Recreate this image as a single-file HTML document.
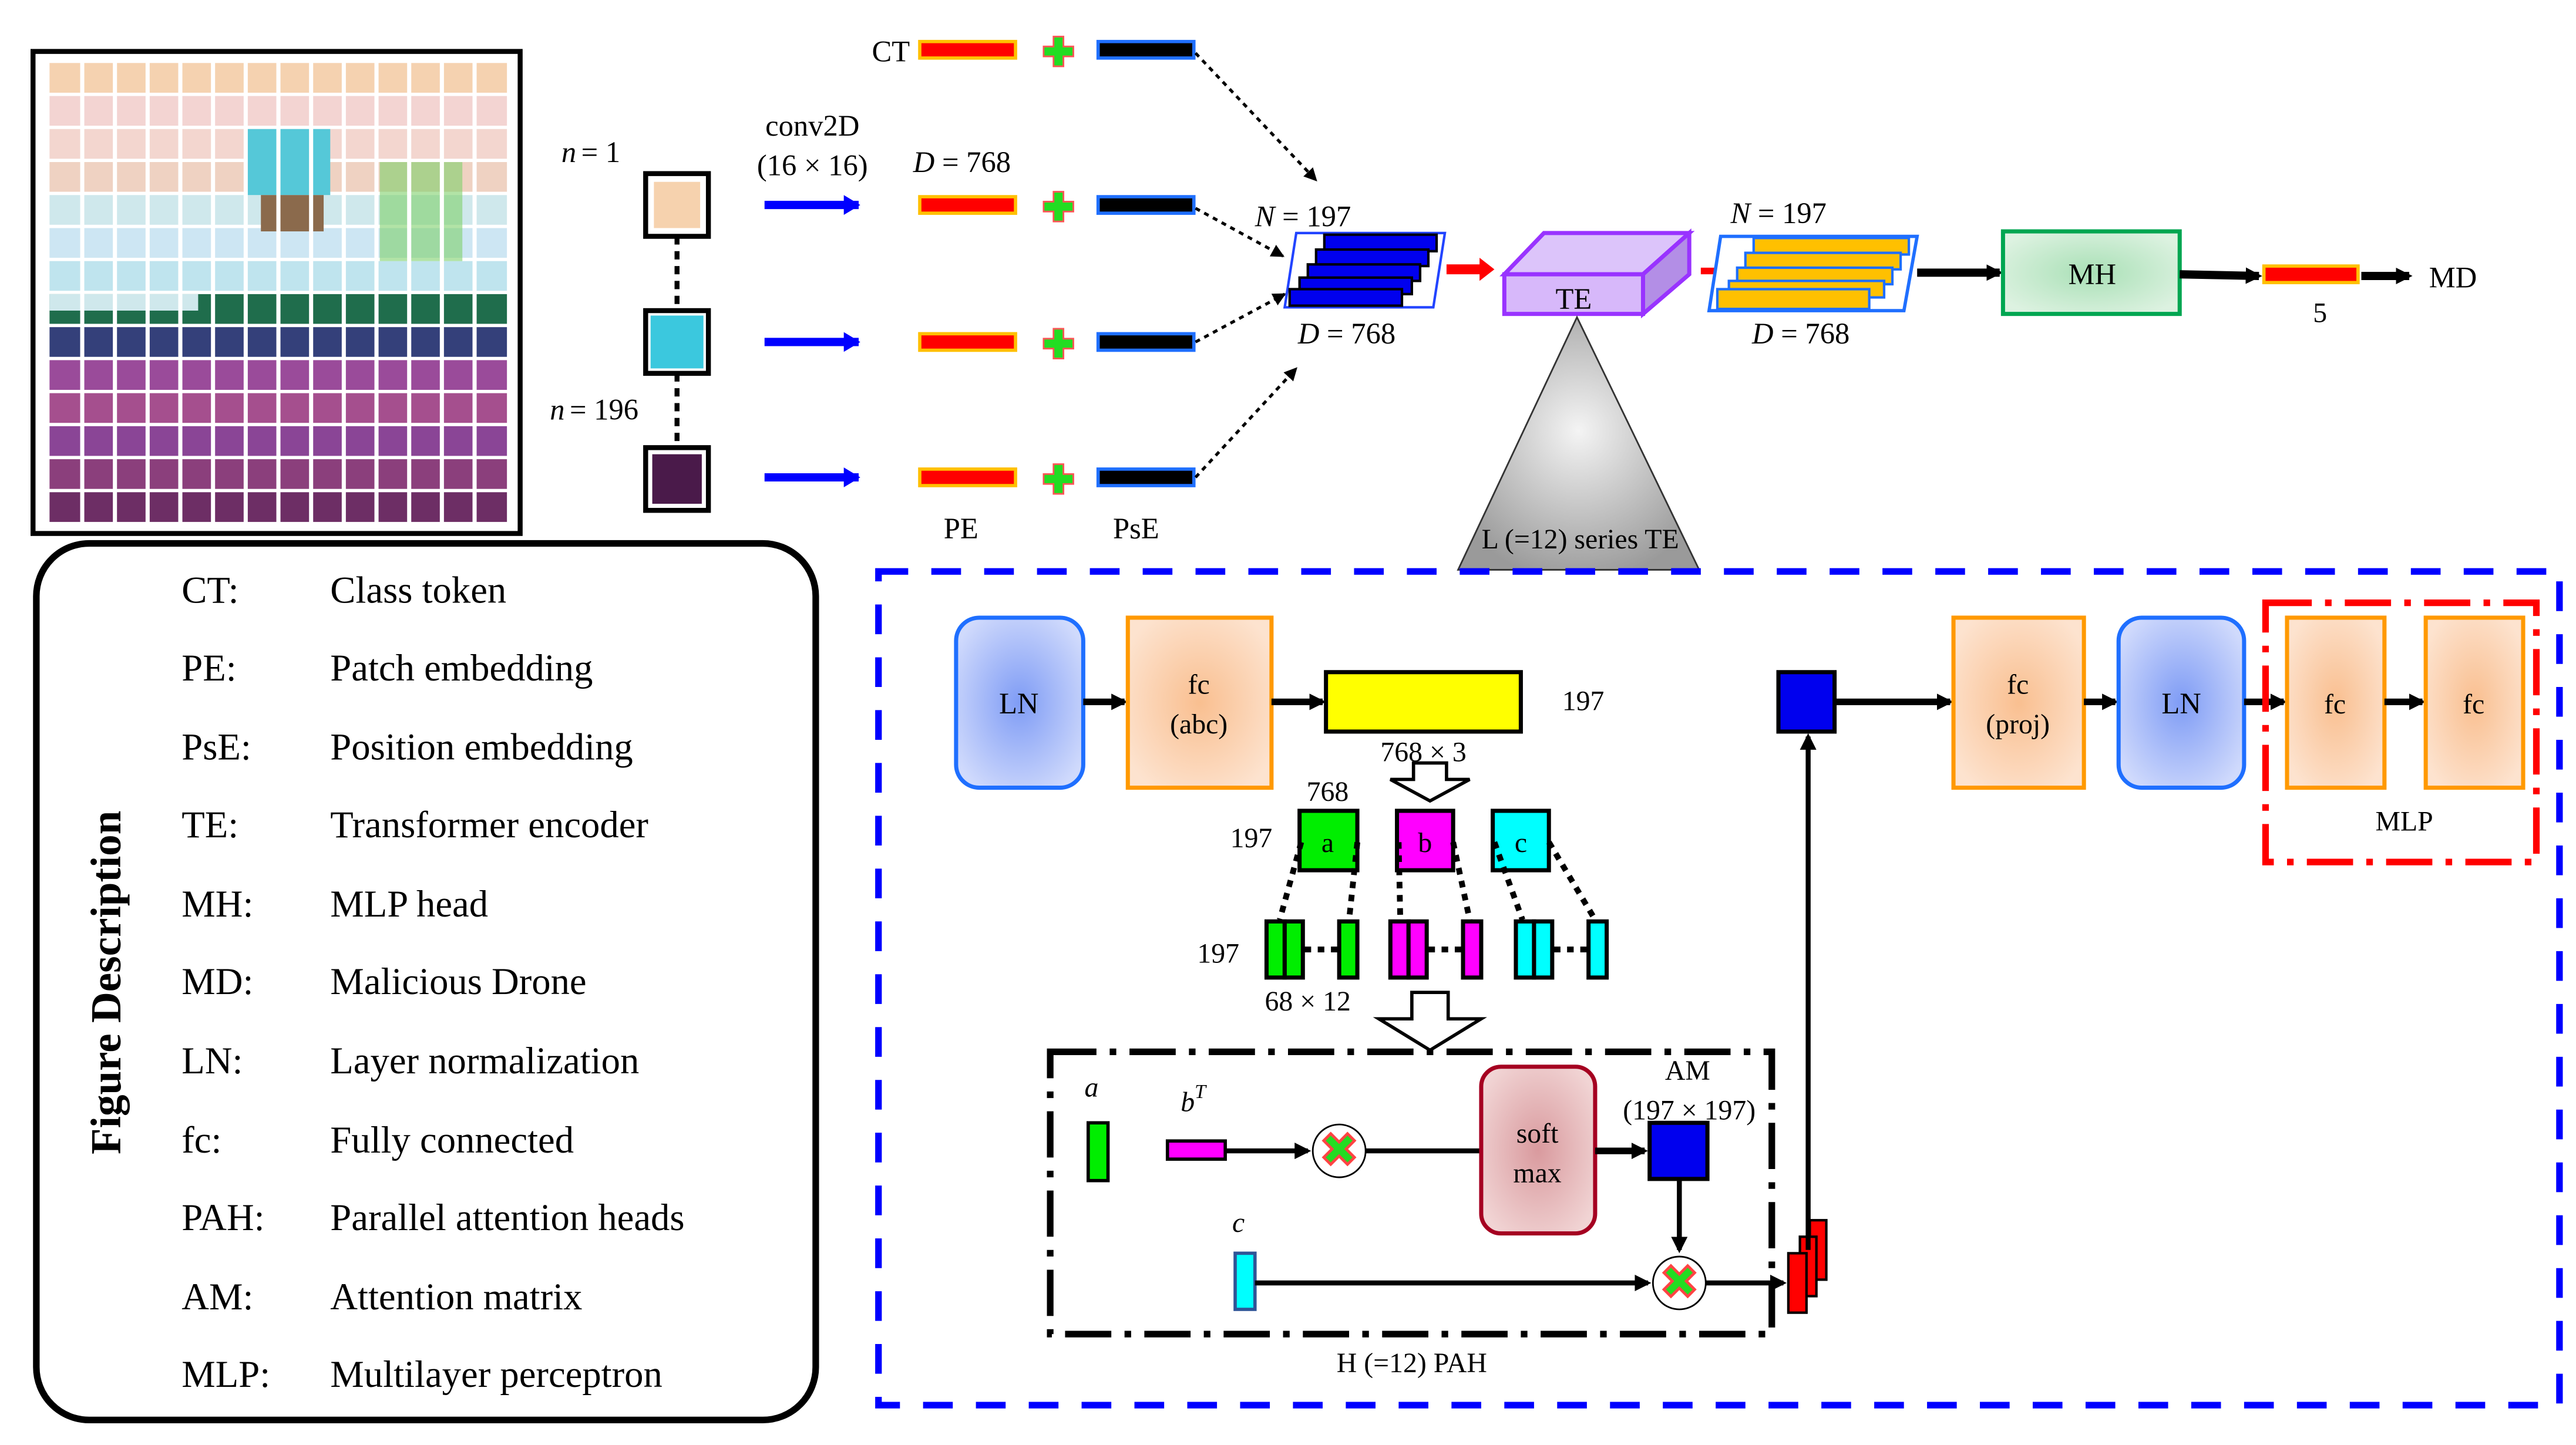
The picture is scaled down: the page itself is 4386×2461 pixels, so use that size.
<!DOCTYPE html>
<html><head><meta charset="utf-8"><style>
html,body{margin:0;padding:0;background:#fff;}
svg{display:block;}
svg text{font-family:"Liberation Serif","DejaVu Serif",serif;fill:#000;}
</style></head><body>
<svg width="4386" height="2461" viewBox="0 0 1560 875" xmlns="http://www.w3.org/2000/svg" font-family="Liberation Serif, DejaVu Serif, serif">
<defs>
<radialGradient id="gBlue" cx="50%" cy="50%" r="60%"><stop offset="0" stop-color="#7f9cf5"/><stop offset="1" stop-color="#d0dafc"/></radialGradient>
<radialGradient id="gOr" cx="50%" cy="50%" r="60%"><stop offset="0" stop-color="#f9bf90"/><stop offset="1" stop-color="#fde3cf"/></radialGradient>
<radialGradient id="gGr" cx="50%" cy="50%" r="60%"><stop offset="0" stop-color="#a9e0b6"/><stop offset="1" stop-color="#ddf2e1"/></radialGradient>
<radialGradient id="gPk" cx="50%" cy="50%" r="60%"><stop offset="0" stop-color="#d99a9e"/><stop offset="1" stop-color="#f1d4d4"/></radialGradient>
<radialGradient id="gPu" cx="50%" cy="50%" r="60%"><stop offset="0" stop-color="#c79af5"/><stop offset="1" stop-color="#e6d2fb"/></radialGradient>
<radialGradient id="gTri" cx="50%" cy="45%" r="60%"><stop offset="0" stop-color="#f4f4f4"/><stop offset="1" stop-color="#9a9a9a"/></radialGradient>
<marker id="ah" markerWidth="10" markerHeight="10" refX="8" refY="5" orient="auto" markerUnits="userSpaceOnUse"><path d="M0,0 L10,5 L0,10 Z" fill="#000"/></marker>
<marker id="ahs" markerWidth="8" markerHeight="8" refX="7" refY="4" orient="auto" markerUnits="userSpaceOnUse"><path d="M0,0 L8,4 L0,8 Z" fill="#000"/></marker>
<marker id="ahb" markerWidth="10" markerHeight="12" refX="9" refY="6" orient="auto" markerUnits="userSpaceOnUse"><path d="M0,0 L10,6 L0,12 Z" fill="#0000ff"/></marker>
</defs>

<!-- image frame -->
<rect x="20" y="31" width="295" height="292" fill="#fff" stroke="#000" stroke-width="3"/>
<g>
<rect x="30" y="38" width="277" height="18" fill="#f5d2b0"/>
<rect x="30" y="58" width="277" height="18" fill="#f3d4d2"/>
<rect x="30" y="78" width="277" height="18" fill="#f3d6cf"/>
<rect x="30" y="98" width="277" height="18" fill="#efd2c2"/>
<rect x="30" y="118" width="277" height="18" fill="#cfe8ec"/>
<rect x="30" y="138" width="277" height="18" fill="#cde6f3"/>
<rect x="30" y="158" width="277" height="18" fill="#bfe4ee"/>
<rect x="30" y="178" width="277" height="18" fill="#1f6d4c"/>
<rect x="30" y="198" width="277" height="18" fill="#34407a"/>
<rect x="30" y="218" width="277" height="18" fill="#9a4b9a"/>
<rect x="30" y="238" width="277" height="18" fill="#a54f8e"/>
<rect x="30" y="258" width="277" height="18" fill="#8a4596"/>
<rect x="30" y="278" width="277" height="18" fill="#8b3f7c"/>
<rect x="30" y="298" width="277" height="18" fill="#6d2e65"/>
<rect x="150" y="78" width="50" height="40" fill="#55c8d8"/>
<rect x="158" y="118" width="38" height="22" fill="#8b6a4c"/>
<rect x="230" y="98" width="50" height="60" fill="#7ed06b" opacity="0.6"/>
<rect x="30" y="178" width="90" height="10" fill="#cfe8ec"/>
</g>
<g stroke="#fff" stroke-width="2.5">
<line x1="49.8" y1="36" x2="49.8" y2="318"/><line x1="69.6" y1="36" x2="69.6" y2="318"/><line x1="89.4" y1="36" x2="89.4" y2="318"/><line x1="109.2" y1="36" x2="109.2" y2="318"/><line x1="129" y1="36" x2="129" y2="318"/><line x1="148.8" y1="36" x2="148.8" y2="318"/><line x1="168.6" y1="36" x2="168.6" y2="318"/><line x1="188.4" y1="36" x2="188.4" y2="318"/><line x1="208.2" y1="36" x2="208.2" y2="318"/><line x1="228" y1="36" x2="228" y2="318"/><line x1="247.8" y1="36" x2="247.8" y2="318"/><line x1="267.6" y1="36" x2="267.6" y2="318"/><line x1="287.4" y1="36" x2="287.4" y2="318"/>
</g>

<!-- legend -->
<rect x="22" y="329" width="472" height="531" rx="32" fill="#fff" stroke="#000" stroke-width="4"/>
<text x="73" y="595" font-size="26" font-weight="bold" transform="rotate(-90 73 595)" text-anchor="middle">Figure Description</text>
<g font-size="23">
<text x="110" y="365">CT:</text><text x="200" y="365">Class token</text>
<text x="110" y="412">PE:</text><text x="200" y="412">Patch embedding</text>
<text x="110" y="460">PsE:</text><text x="200" y="460">Position embedding</text>
<text x="110" y="507">TE:</text><text x="200" y="507">Transformer encoder</text>
<text x="110" y="555">MH:</text><text x="200" y="555">MLP head</text>
<text x="110" y="602">MD:</text><text x="200" y="602">Malicious Drone</text>
<text x="110" y="650">LN:</text><text x="200" y="650">Layer normalization</text>
<text x="110" y="698">fc:</text><text x="200" y="698">Fully connected</text>
<text x="110" y="745">PAH:</text><text x="200" y="745">Parallel attention heads</text>
<text x="110" y="793">AM:</text><text x="200" y="793">Attention matrix</text>
<text x="110" y="840">MLP:</text><text x="200" y="840">Multilayer perceptron</text>
</g>

<!-- patches -->
<rect x="391" y="105" width="38" height="38" fill="#fff" stroke="#000" stroke-width="3"/><rect x="396" y="110" width="28" height="28" fill="#f6d2ae"/>
<rect x="391" y="188" width="38" height="38" fill="#fff" stroke="#000" stroke-width="3"/><rect x="394" y="191" width="32" height="32" fill="#3bc8de"/>
<rect x="391" y="271" width="38" height="38" fill="#fff" stroke="#000" stroke-width="3"/><rect x="395" y="275" width="30" height="30" fill="#4a1a4a"/>
<line x1="410" y1="143" x2="410" y2="188" stroke="#000" stroke-width="3" stroke-dasharray="5,4"/>
<line x1="410" y1="226" x2="410" y2="271" stroke="#000" stroke-width="3" stroke-dasharray="5,4"/>
<text x="340" y="98" font-size="18" font-style="italic">n</text><text x="352" y="98" font-size="18">= 1</text>
<text x="333" y="254" font-size="18" font-style="italic">n</text><text x="345" y="254" font-size="18">= 196</text>
<text x="492" y="82" font-size="18" text-anchor="middle">conv2D</text>
<text x="492" y="106" font-size="18" text-anchor="middle">(16 × 16)</text>
<g stroke="#0000ff" stroke-width="5" marker-end="url(#ahb)">
<line x1="463" y1="124" x2="520" y2="124"/><line x1="463" y1="207" x2="520" y2="207"/><line x1="463" y1="289" x2="520" y2="289"/>
</g>

<!-- tokens -->
<text x="528" y="37" font-size="18">CT</text>
<text x="553" y="104" font-size="18"><tspan font-style="italic">D</tspan> = 768</text>
<g>
<rect x="557" y="25" width="58" height="10" fill="#ff0000" stroke="#ffc000" stroke-width="2"/>
<rect x="557" y="119" width="58" height="10" fill="#ff0000" stroke="#ffc000" stroke-width="2"/>
<rect x="557" y="202" width="58" height="10" fill="#ff0000" stroke="#ffc000" stroke-width="2"/>
<rect x="557" y="284" width="58" height="10" fill="#ff0000" stroke="#ffc000" stroke-width="2"/>
<rect x="665" y="25" width="58" height="10" fill="#000" stroke="#1f6fff" stroke-width="2"/>
<rect x="665" y="119" width="58" height="10" fill="#000" stroke="#1f6fff" stroke-width="2"/>
<rect x="665" y="202" width="58" height="10" fill="#000" stroke="#1f6fff" stroke-width="2"/>
<rect x="665" y="284" width="58" height="10" fill="#000" stroke="#1f6fff" stroke-width="2"/>
</g>
<g fill="#22dd22" stroke="#ff5555" stroke-width="1">
<path d="M638,22h6v6h6v6h-6v6h-6v-6h-6v-6h6z"/>
<path d="M638,116h6v6h6v6h-6v6h-6v-6h-6v-6h6z"/>
<path d="M638,199h6v6h6v6h-6v6h-6v-6h-6v-6h6z"/>
<path d="M638,281h6v6h6v6h-6v6h-6v-6h-6v-6h6z"/>
</g>
<text x="582" y="326" font-size="18" text-anchor="middle">PE</text>
<text x="688" y="326" font-size="18" text-anchor="middle">PsE</text>
<g stroke="#000" stroke-width="1.8" stroke-dasharray="3,3" marker-end="url(#ahs)" fill="none">
<line x1="724" y1="32" x2="797" y2="109"/>
<line x1="724" y1="126" x2="777" y2="155"/>
<line x1="724" y1="207" x2="778" y2="178"/>
<line x1="724" y1="289" x2="785" y2="223"/>
</g>

<!-- blue stack -->
<text x="760" y="137" font-size="18"><tspan font-style="italic">N</tspan> = 197</text>
<path d="M778,186 L785,141 L875,141 L868,186 Z" fill="#fff" stroke="#2244ff" stroke-width="1.5"/>
<rect x="802" y="142" width="68" height="10" fill="#0000ee" stroke="#000" stroke-width="1.5"/>
<rect x="797" y="151" width="68" height="10" fill="#0000ee" stroke="#000" stroke-width="1.5"/>
<rect x="792" y="160" width="68" height="10" fill="#0000ee" stroke="#000" stroke-width="1.5"/>
<rect x="787" y="168" width="68" height="10" fill="#0000ee" stroke="#000" stroke-width="1.5"/>
<rect x="781" y="175" width="68" height="10" fill="#0000ee" stroke="#000" stroke-width="1.5"/>
<text x="786" y="208" font-size="18"><tspan font-style="italic">D</tspan> = 768</text>
<path d="M876,160 h20 v-4 l9,7 l-9,7 v-4 h-20 z" fill="#ff0000"/>

<!-- TE box -->
<path d="M911,166 L935,141 L1023,141 L995,166 Z" fill="#dcc4fa" stroke="#9933ff" stroke-width="2.5"/>
<path d="M995,166 L1023,141 L1023,166 L995,190 Z" fill="#b38ee6" stroke="#9933ff" stroke-width="2.5"/>
<rect x="911" y="166" width="84" height="24" fill="#d7b8fa" stroke="#9933ff" stroke-width="2.5"/>
<text x="953" y="187" font-size="18" text-anchor="middle">TE</text>
<path d="M955,192 L1029,345 L883,345 Z" fill="url(#gTri)" stroke="#333" stroke-width="1"/>
<text x="957" y="332" font-size="17" text-anchor="middle">L (=12) series TE</text>
<path d="M1030,162 h14 v-4 l8,6 l-8,6 v-4 h-14 z" fill="#ff0000"/>

<!-- yellow stack -->
<text x="1048" y="135" font-size="18"><tspan font-style="italic">N</tspan> = 197</text>
<path d="M1035,188 L1042,143 L1161,143 L1153,188 Z" fill="#fff" stroke="#1f6fff" stroke-width="2"/>
<rect x="1062" y="144" width="94" height="10" fill="#ffc000" stroke="#1f6fff" stroke-width="1.5"/>
<rect x="1057" y="153" width="94" height="10" fill="#ffc000" stroke="#1f6fff" stroke-width="1.5"/>
<rect x="1052" y="162" width="94" height="10" fill="#ffc000" stroke="#1f6fff" stroke-width="1.5"/>
<rect x="1047" y="170" width="94" height="10" fill="#ffc000" stroke="#1f6fff" stroke-width="1.5"/>
<rect x="1040" y="175" width="92" height="12" fill="#ffc000" stroke="#1f6fff" stroke-width="1.5"/>
<text x="1061" y="208" font-size="18"><tspan font-style="italic">D</tspan> = 768</text>
<line x1="1161" y1="165" x2="1211" y2="165" stroke="#000" stroke-width="5" marker-end="url(#ah)"/>
<rect x="1213" y="140" width="107" height="50" fill="url(#gGr)" stroke="#00a651" stroke-width="2.5"/>
<text x="1267" y="172" font-size="18" text-anchor="middle">MH</text>
<line x1="1320" y1="166" x2="1368" y2="167" stroke="#000" stroke-width="5" marker-end="url(#ah)"/>
<rect x="1371" y="161" width="57" height="10" fill="#ff0000" stroke="#ffc000" stroke-width="2"/>
<line x1="1430" y1="167" x2="1459" y2="167" stroke="#000" stroke-width="5" marker-end="url(#ah)"/>
<text x="1471" y="174" font-size="18">MD</text>
<text x="1405" y="195" font-size="17" text-anchor="middle">5</text>

<!-- encoder detail dashed box -->
<rect x="532" y="346" width="1018" height="505" fill="none" stroke="#0000ff" stroke-width="4" stroke-dasharray="18,14"/>
<rect x="579" y="374" width="77" height="103" rx="14" fill="url(#gBlue)" stroke="#1f6fff" stroke-width="2.5"/>
<text x="617" y="432" font-size="18" text-anchor="middle">LN</text>
<line x1="656" y1="425" x2="681" y2="425" stroke="#000" stroke-width="4" marker-end="url(#ah)"/>
<rect x="683" y="374" width="87" height="103" fill="url(#gOr)" stroke="#ff9900" stroke-width="2.5"/>
<text x="726" y="420" font-size="17" text-anchor="middle">fc</text>
<text x="726" y="444" font-size="17" text-anchor="middle">(abc)</text>
<line x1="770" y1="425" x2="801" y2="425" stroke="#000" stroke-width="4" marker-end="url(#ah)"/>
<rect x="803" y="407" width="118" height="36" fill="#ffff00" stroke="#000" stroke-width="2.5"/>
<text x="946" y="430" font-size="17">197</text>
<text x="862" y="461" font-size="17" text-anchor="middle">768 × 3</text>
<path d="M856,462 h20 v10 h14 l-24,13 l-24,-13 h14 z" fill="#fff" stroke="#000" stroke-width="2"/>
<text x="804" y="485" font-size="17" text-anchor="middle">768</text>
<text x="745" y="513" font-size="17">197</text>
<rect x="787" y="491" width="35" height="36" fill="#00ee00" stroke="#000" stroke-width="2.5"/>
<text x="804" y="516" font-size="17" text-anchor="middle">a</text>
<rect x="846" y="491" width="34" height="36" fill="#ff00ff" stroke="#000" stroke-width="2.5"/>
<text x="863" y="516" font-size="17" text-anchor="middle">b</text>
<rect x="904" y="491" width="34" height="36" fill="#00ffff" stroke="#000" stroke-width="2.5"/>
<text x="921" y="516" font-size="17" text-anchor="middle">c</text>
<g stroke="#000" stroke-width="3.5" stroke-dasharray="4,4">
<line x1="788" y1="510" x2="775" y2="557"/><line x1="822" y1="510" x2="817" y2="557"/>
<line x1="847" y1="510" x2="848" y2="557"/><line x1="880" y1="510" x2="890" y2="557"/>
<line x1="905" y1="510" x2="922" y2="557"/><line x1="938" y1="510" x2="966" y2="557"/>
</g>
<text x="725" y="583" font-size="17">197</text>
<g stroke="#000" stroke-width="2.5">
<rect x="767" y="558" width="11" height="34" fill="#00ee00"/><rect x="778" y="558" width="11" height="34" fill="#00ee00"/><rect x="811" y="558" width="11" height="34" fill="#00ee00"/>
<rect x="842" y="558" width="11" height="34" fill="#ff00ff"/><rect x="853" y="558" width="11" height="34" fill="#ff00ff"/><rect x="886" y="558" width="11" height="34" fill="#ff00ff"/>
<rect x="918" y="558" width="11" height="34" fill="#00ffff"/><rect x="929" y="558" width="11" height="34" fill="#00ffff"/><rect x="962" y="558" width="11" height="34" fill="#00ffff"/>
</g>
<g stroke="#000" stroke-width="3.5" stroke-dasharray="4,4">
<line x1="790" y1="575" x2="811" y2="575"/><line x1="865" y1="575" x2="886" y2="575"/><line x1="941" y1="575" x2="962" y2="575"/>
</g>
<text x="792" y="612" font-size="17" text-anchor="middle">68 × 12</text>
<path d="M855,601 h22 v16 h20 l-31,19 l-31,-19 h20 z" fill="#fff" stroke="#000" stroke-width="2"/>

<!-- PAH box -->
<rect x="636" y="637" width="437" height="171" fill="none" stroke="#000" stroke-width="4" stroke-dasharray="28,8,4,8"/>
<text x="661" y="664" font-size="17" font-style="italic" text-anchor="middle">a</text>
<rect x="659" y="680" width="12" height="35" fill="#00ee00" stroke="#000" stroke-width="2"/>
<text x="715" y="673" font-size="17" font-style="italic">b<tspan font-size="12" dy="-8">T</tspan></text>
<rect x="707" y="691" width="35" height="11" fill="#ff00ff" stroke="#000" stroke-width="2"/>
<line x1="742" y1="697" x2="792" y2="697" stroke="#000" stroke-width="3" marker-end="url(#ah)"/>
<circle cx="811" cy="697" r="16" fill="#fff" stroke="#000" stroke-width="1"/>
<text x="811" y="706" font-size="28" font-weight="bold" text-anchor="middle" style="fill:#22dd22;stroke:#ff4444;stroke-width:0.8">✖</text>
<line x1="827" y1="697" x2="897" y2="697" stroke="#000" stroke-width="3"/>
<rect x="897" y="646" width="69" height="101" rx="12" fill="url(#gPk)" stroke="#a50021" stroke-width="2.5"/>
<text x="931" y="692" font-size="17" text-anchor="middle">soft</text>
<text x="931" y="716" font-size="17" text-anchor="middle">max</text>
<line x1="966" y1="697" x2="996" y2="697" stroke="#000" stroke-width="4" marker-end="url(#ah)"/>
<text x="1022" y="654" font-size="17" text-anchor="middle">AM</text>
<text x="1023" y="678" font-size="17" text-anchor="middle">(197 × 197)</text>
<rect x="999" y="680" width="35" height="34" fill="#0000ee" stroke="#000" stroke-width="2.5"/>
<line x1="1017" y1="714" x2="1017" y2="757" stroke="#000" stroke-width="3" marker-end="url(#ah)"/>
<text x="750" y="746" font-size="17" font-style="italic" text-anchor="middle">c</text>
<rect x="748" y="759" width="12" height="34" fill="#00ffff" stroke="#2f5597" stroke-width="2"/>
<line x1="760" y1="777" x2="998" y2="777" stroke="#000" stroke-width="3" marker-end="url(#ah)"/>
<circle cx="1017" cy="777" r="16" fill="#fff" stroke="#000" stroke-width="1"/>
<text x="1017" y="786" font-size="28" font-weight="bold" text-anchor="middle" style="fill:#22dd22;stroke:#ff4444;stroke-width:0.8">✖</text>
<line x1="1033" y1="777" x2="1080" y2="777" stroke="#000" stroke-width="3" marker-end="url(#ah)"/>
<rect x="1096" y="739" width="10" height="36" fill="#ff0000" stroke="#000" stroke-width="1.5"/>
<rect x="1090" y="749" width="10" height="36" fill="#ff0000" stroke="#000" stroke-width="1.5"/>
<rect x="1083" y="759" width="11" height="36" fill="#ff0000" stroke="#000" stroke-width="1.5"/>
<text x="855" y="831" font-size="17" text-anchor="middle">H (=12) PAH</text>
<line x1="1095" y1="757" x2="1095" y2="446" stroke="#000" stroke-width="3" marker-end="url(#ah)"/>
<rect x="1077" y="407" width="34" height="36" fill="#0000ee" stroke="#000" stroke-width="2.5"/>
<line x1="1111" y1="425" x2="1181" y2="425" stroke="#000" stroke-width="4" marker-end="url(#ah)"/>
<rect x="1183" y="374" width="79" height="103" fill="url(#gOr)" stroke="#ff9900" stroke-width="2.5"/>
<text x="1222" y="420" font-size="17" text-anchor="middle">fc</text>
<text x="1222" y="444" font-size="17" text-anchor="middle">(proj)</text>
<line x1="1262" y1="425" x2="1281" y2="425" stroke="#000" stroke-width="4" marker-end="url(#ah)"/>
<rect x="1283" y="374" width="76" height="103" rx="14" fill="url(#gBlue)" stroke="#1f6fff" stroke-width="2.5"/>
<text x="1321" y="432" font-size="18" text-anchor="middle">LN</text>
<line x1="1359" y1="425" x2="1383" y2="425" stroke="#000" stroke-width="4" marker-end="url(#ah)"/>
<rect x="1372" y="365" width="164" height="157" fill="none" stroke="#ff0000" stroke-width="4" stroke-dasharray="28,8,4,8"/>
<rect x="1385" y="374" width="59" height="103" fill="url(#gOr)" stroke="#ff9900" stroke-width="2.5"/>
<text x="1414" y="432" font-size="17" text-anchor="middle">fc</text>
<line x1="1444" y1="425" x2="1467" y2="425" stroke="#000" stroke-width="4" marker-end="url(#ah)"/>
<rect x="1469" y="374" width="59" height="103" fill="url(#gOr)" stroke="#ff9900" stroke-width="2.5"/>
<text x="1498" y="432" font-size="17" text-anchor="middle">fc</text>
<text x="1456" y="503" font-size="17" text-anchor="middle">MLP</text>
</svg>
</body></html>
